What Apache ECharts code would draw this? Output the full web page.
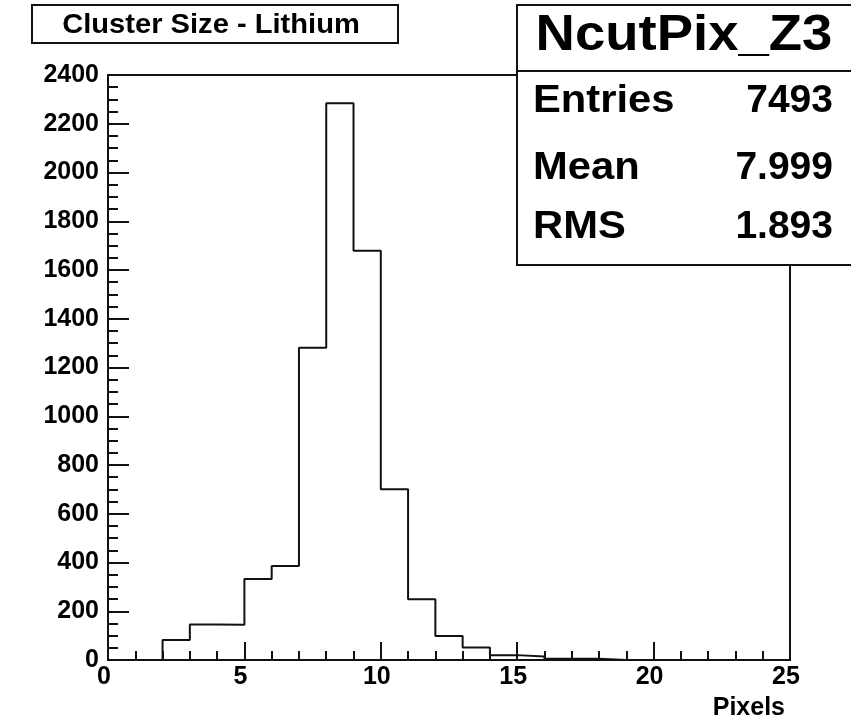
<!DOCTYPE html>
<html>
<head>
<meta charset="utf-8">
<script src="https://cdn.jsdelivr.net/npm/echarts@6/dist/echarts.min.js"></script>
<style>
  html, body { margin: 0; padding: 0; background: #fff; }
  #chart { width: 851px; height: 723px; }
</style>
</head>
<body>
<div id="chart"></div>
<script>
// Cluster size histogram: one entry per unit-wide bin, lower edges 0..24
const binLow = [0, 1, 2, 3, 4, 5, 6, 7, 8, 9, 10, 11, 12, 13, 14, 15, 16, 17, 18, 19, 20, 21, 22, 23, 24];
const counts = [0, 0, 82, 146, 145, 332, 386, 1281, 2284, 1679, 701, 249, 98, 51, 20, 14, 5, 5, 0, 0, 0, 0, 0, 0, 0];
const xUpper = 25;

const histTitle = 'Cluster Size - Lithium';
const histName = 'NcutPix_Z3';
const statNames = ['Entries', 'Mean', 'RMS'];
const statValues = ['7493', '7.999', '1.893'];
const xAxisTitle = 'Pixels';

const FONT = '"Liberation Sans", Arial, Helvetica, sans-serif';
const LINE = '#111';

// Step outline: each bin drawn as a flat segment from its low edge to the next edge
const stepData = binLow.map((x, i) => [x, counts[i]]);
stepData.push([xUpper, counts[counts.length - 1]]);

const chart = echarts.init(document.getElementById('chart'), null, { renderer: 'canvas' });

// text anchored at (x, y); optional horizontal stretch around that anchor
function textEl(str, x, y, size, align, stretch) {
  return {
    type: 'text', x: x, y: y, z: 110,
    scaleX: stretch || 1, originX: 0, originY: 0,
    style: {
      text: str, font: 'bold ' + size + 'px ' + FONT, fill: '#000',
      align: align, textAlign: align, verticalAlign: 'middle', textVerticalAlign: 'middle'
    }
  };
}

// statistics rows: name on the left, value right-aligned
const statRows = [101, 168, 227];
const statGraphics = [];
statNames.forEach((name, i) => {
  statGraphics.push(textEl(name, 533, statRows[i], 39, 'left', 1.07));
  statGraphics.push(textEl(statValues[i], 833, statRows[i], 39, 'right'));
});

const option = {
  animation: false,
  backgroundColor: '#fff',
  grid: {
    left: 108, right: 61, top: 75, bottom: 63,
    show: true, borderColor: LINE, borderWidth: 2, backgroundColor: 'transparent'
  },
  xAxis: {
    type: 'value', min: 0, max: 25, interval: 5,
    axisLine: { show: true, lineStyle: { color: LINE, width: 2 } },
    axisTick: { show: true, inside: true, length: 18, lineStyle: { color: LINE, width: 2 } },
    minorTick: { show: true, splitNumber: 5, length: 9, lineStyle: { color: LINE, width: 2 } },
    splitLine: { show: false },
    axisLabel: {
      margin: 5, fontFamily: FONT, fontWeight: 'bold', fontSize: 25, lineHeight: 25,
      color: '#000', padding: [0, 8, 0, 0],
      formatter: v => String(v)
    },
    name: xAxisTitle, nameLocation: 'end', nameGap: 0,
    nameTextStyle: {
      fontFamily: FONT, fontWeight: 'bold', fontSize: 25, color: '#000',
      align: 'right', verticalAlign: 'top', padding: [36, 5, 0, 0]
    }
  },
  yAxis: {
    type: 'value', min: 0, max: 2400, interval: 200,
    axisLine: { show: true, lineStyle: { color: LINE, width: 2 } },
    axisTick: { show: true, inside: true, length: 21, lineStyle: { color: LINE, width: 2 } },
    minorTick: { show: true, splitNumber: 4, length: 10, lineStyle: { color: LINE, width: 2 } },
    splitLine: { show: false },
    axisLabel: {
      margin: 9, fontFamily: FONT, fontWeight: 'bold', fontSize: 25, color: '#000',
      formatter: v => String(v)
    }
  },
  series: [{
    type: 'line',
    step: 'end',
    data: stepData,
    symbol: 'none',
    lineStyle: { color: LINE, width: 2 },
    z: 5
  }],
  graphic: [
    // histogram title box
    {
      type: 'rect', shape: { x: 32, y: 5, width: 366, height: 38 }, z: 100,
      style: { fill: '#fff', stroke: LINE, lineWidth: 2 }
    },
    textEl(histTitle, 211, 25, 28, 'center', 1.04),
    // statistics box
    {
      type: 'rect', shape: { x: 517, y: 5, width: 345, height: 260 }, z: 100,
      style: { fill: '#fff', stroke: LINE, lineWidth: 2 }
    },
    {
      type: 'line', shape: { x1: 517, y1: 71, x2: 860, y2: 71 }, z: 101,
      style: { stroke: LINE, lineWidth: 2 }
    },
    textEl(histName, 684, 36, 50, 'center', 1.09)
  ].concat(statGraphics)
};

chart.setOption(option);
</script>
</body>
</html>
